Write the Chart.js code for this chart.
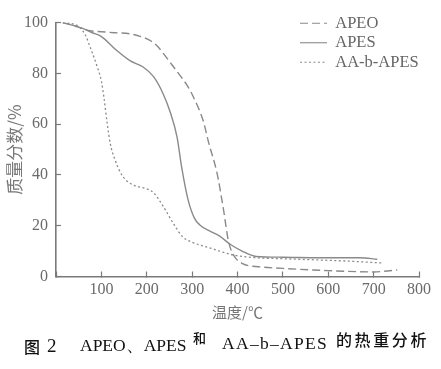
<!DOCTYPE html>
<html>
<head>
<meta charset="utf-8">
<script src="https://cdn.jsdelivr.net/npm/chart.js@4"></script>
<style>
  html, body { margin: 0; padding: 0; background: #fff; }
  #wrap { position: relative; width: 441px; height: 369px; }
  #cap span { position: absolute; white-space: nowrap; color: #111; }
  .cjk { font-family: "Noto Sans CJK SC"; font-weight: 500; }
  .ser { font-family: "Liberation Serif"; }
</style>
</head>
<body>
<div id="wrap">
  <canvas id="chart" width="441" height="369"></canvas>
  <div id="cap">
    <span class="cjk" style="left:24px; top:334px; font-size:16px;">图</span>
    <span class="ser" style="left:47px; top:335px; font-size:19px;">2</span>
    <span class="ser" style="left:80px; top:333px; font-size:17.5px;">APEO、APES</span>
    <span class="cjk" style="left:193px; top:328px; font-size:13px;">和</span>
    <span class="ser" style="left:222px; top:333px; font-size:17.5px; letter-spacing:1.3px;">AA–b–APES</span>
    <span class="cjk" style="left:336px; top:327px; font-size:16px; letter-spacing:2.6px;">的热重分析</span>
  </div>
</div>
<script>
// temperature (°C) / mass fraction (%)
const apeoX = [15, 40, 60, 75, 100, 130, 163, 185, 207, 222, 236, 255, 274, 290, 302, 325, 336, 355, 369, 380, 391, 410, 450, 500, 600, 700, 720, 752];
const apeoY = [100, 98.8, 97.6, 96.8, 96.4, 96, 95.6, 94.6, 93, 91, 88, 83.5, 79, 75, 71, 61, 53, 40.6, 26.5, 14, 8.5, 5.2, 3.8, 3.2, 2.3, 1.8, 2.0, 2.6];

const apesX = [15, 40, 60, 80, 100, 134, 163, 192, 215, 236, 252, 267, 277, 291, 305, 317, 340, 360, 383, 410, 441, 500, 580, 670, 708];
const apesY = [100, 98.8, 97.6, 96, 94.5, 89, 85, 82.5, 78.7, 72, 64.6, 54.7, 43, 30.3, 23, 20.3, 17.8, 16, 12.8, 10, 7.9, 7.6, 7.4, 7.4, 6.8];

const aaX = [15, 46, 65, 76, 91, 100, 106, 113, 120, 130, 145, 165, 200, 215, 235, 260, 280, 300, 340, 390, 434, 500, 581, 650, 720];
const aaY = [100, 98.9, 95, 90, 82.5, 77, 70, 60, 52, 46, 40, 36.5, 34.5, 33, 28, 20.5, 15.5, 13.5, 11.2, 8.5, 7.5, 7.0, 6.5, 6.0, 5.3];

const xTicks = [0, 100, 200, 300, 400, 500, 600, 700, 800];
const yTicks = [0, 20, 40, 60, 80, 100];

const seriesNames = ["APEO", "APES", "AA-b-APES"];

const toPoints = (xs, ys) => xs.map((x, i) => ({ x: x, y: ys[i] }));

const lineColor = "#8a8a8a";
const axisColor = "#7a7a7a";
const textColor = "#6a6a6a";

// put the legend in the upper right of the plot
const legendPlace = {
  id: "legendPlace",
  afterLayout(chart) {
    if (chart.legend) {
      chart.legend.left = 297;
      chart.legend.top = 12;
    }
  },
};

const ctx = document.getElementById("chart").getContext("2d");

new Chart(ctx, {
  type: "line",
  data: {
    datasets: [
      {
        label: seriesNames[0],
        data: toPoints(apeoX, apeoY),
        borderColor: lineColor,
        borderWidth: 1.4,
        borderDash: [8, 4],
        pointRadius: 0,
        cubicInterpolationMode: "monotone",
        fill: false,
      },
      {
        label: seriesNames[1],
        data: toPoints(apesX, apesY),
        borderColor: lineColor,
        borderWidth: 1.4,
        pointRadius: 0,
        cubicInterpolationMode: "monotone",
        fill: false,
      },
      {
        label: seriesNames[2],
        data: toPoints(aaX, aaY),
        borderColor: lineColor,
        borderWidth: 1.3,
        borderDash: [2, 2.5],
        pointRadius: 0,
        cubicInterpolationMode: "monotone",
        fill: false,
      },
    ],
  },
  options: {
    responsive: false,
    animation: false,
    devicePixelRatio: 1,
    layout: {
      padding: { left: 0, right: 22, top: 14, bottom: 47 },
    },
    scales: {
      x: {
        type: "linear",
        min: 0,
        max: 800,
        afterBuildTicks: (scale) => {
          scale.ticks = xTicks.map((v) => ({ value: v }));
        },
        afterFit: (scale) => {
          scale.height = 45.5;
        },
        ticks: {
          color: textColor,
          font: { family: "Liberation Serif", size: 16 },
          padding: 9,
          maxRotation: 0,
          callback: (v) => (v === 0 ? "" : v),
        },
        grid: {
          drawOnChartArea: false,
          tickLength: -5,
          color: axisColor,
          tickWidth: 1.2,
        },
        border: { color: axisColor, width: 1.6 },
        title: {
          display: true,
          text: "温度/℃",
          color: "#777",
          font: { family: "Noto Sans CJK SC", size: 15 },
          padding: { top: 0, bottom: 1 },
        },
      },
      y: {
        min: 0,
        max: 100,
        afterBuildTicks: (scale) => {
          scale.ticks = yTicks.map((v) => ({ value: v }));
        },
        afterFit: (scale) => {
          scale.width = 56;
        },
        ticks: {
          color: textColor,
          font: { family: "Liberation Serif", size: 16 },
          padding: 13,
        },
        grid: {
          drawOnChartArea: false,
          tickLength: -5,
          color: axisColor,
          tickWidth: 1.2,
        },
        border: { color: axisColor, width: 1.6 },
        title: {
          display: true,
          text: "质量分数/%",
          color: "#777",
          font: { family: "Noto Sans CJK SC", size: 17 },
          padding: { top: 4, bottom: 0 },
        },
      },
    },
    plugins: {
      legend: {
        position: "chartArea",
        align: "start",
        labels: {
          usePointStyle: true,
          pointStyle: "line",
          pointStyleWidth: 27,
          boxHeight: 16,
          padding: 3,
          color: "#666",
          font: { family: "Liberation Serif", size: 16.5 },
          // point style drops the dash, so take it from the dataset
          generateLabels: (chart) =>
            Chart.defaults.plugins.legend.labels.generateLabels(chart).map((item) => ({
              ...item,
              lineDash: chart.data.datasets[item.datasetIndex].borderDash || [],
              lineWidth: 1.1,
            })),
        },
      },
      tooltip: { enabled: false },
    },
  },
  plugins: [legendPlace],
});
</script>
</body>
</html>
